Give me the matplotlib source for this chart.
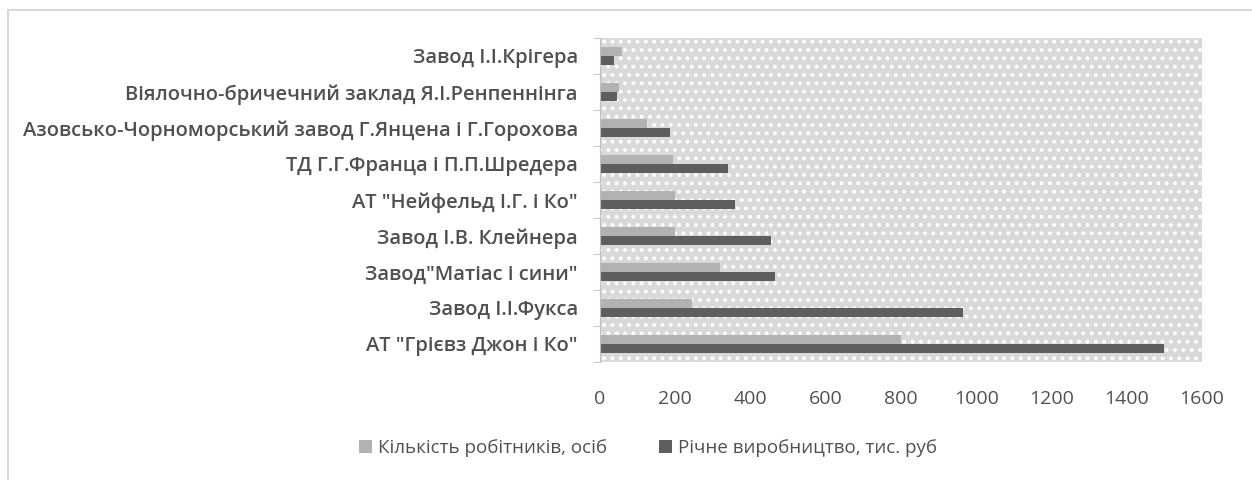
import matplotlib.pyplot as plt
import matplotlib.patches as mpatches
import numpy as np

plt.rcParams['font.family'] = ['Open Sans', 'DejaVu Sans']
plt.rcParams['hatch.color'] = 'white'
plt.rcParams['hatch.linewidth'] = 1.6

# categories listed top to bottom as in the picture
companies = [
    'Завод І.І.Крігера',
    'Віялочно-бричечний заклад Я.І.Ренпеннінга',
    'Азовсько-Чорноморський завод Г.Янцена і Г.Горохова',
    'ТД Г.Г.Франца і П.П.Шредера',
    'АТ "Нейфельд І.Г. і Ко"',
    'Завод І.В. Клейнера',
    'Завод"Матіас і сини"',
    'Завод І.І.Фукса',
    'АТ "Грієвз Джон і Ко"',
]
workers = [58, 50, 125, 195, 200, 200, 320, 245, 800]
production = [37, 45, 185, 340, 360, 455, 465, 965, 1500]

series_names = ['Кількість робітників, осіб', 'Річне виробництво, тис. руб']
light = '#b2b2b2'
dark = '#5e5e5e'
text_col = '#505050'

fig = plt.figure(figsize=(12.52, 4.8), dpi=100)

# outer chart frame
fig.patches.append(mpatches.Rectangle((8 / 1252, -0.01), 1.0, 1 - 10 / 480 + 0.01,
                                      transform=fig.transFigure, fill=False,
                                      edgecolor='#d9d9d9', linewidth=1.5))

ax = fig.add_axes([600 / 1252, 1 - 362 / 480, 602 / 1252, 324 / 480])
ax.set_facecolor('#d9d9d9')
ax.add_patch(mpatches.Rectangle((0, 0), 1, 1, transform=ax.transAxes,
                                facecolor='none', hatch='..', linewidth=0, zorder=0.5))

n = len(companies)
y = np.arange(n)[::-1]
h = 0.25
ax.barh(y + h / 2, workers, height=h, color=light, label=series_names[0], zorder=2)
ax.barh(y - h / 2, production, height=h, color=dark, label=series_names[1], zorder=2)

ax.set_xlim(0, 1600)
ax.set_ylim(-0.5, n - 0.5)
ax.set_xticks(range(0, 1601, 200))
ax.set_yticks(y)
ax.set_yticklabels(companies)
ax.set_yticks(np.arange(-0.5, n, 1), minor=True)

for s in ['top', 'right', 'bottom']:
    ax.spines[s].set_visible(False)
ax.spines['left'].set_color('#bfbfbf')
ax.tick_params(axis='y', which='major', length=0, pad=16, labelsize=14.5,
               labelcolor=text_col)
ax.tick_params(axis='y', which='minor', length=5, color='#bfbfbf')
ax.tick_params(axis='x', length=0, pad=20, labelsize=14, labelcolor=text_col)
for lbl in ax.get_yticklabels():
    lbl.set_fontweight('semibold')

leg = fig.legend(loc='center', bbox_to_anchor=(648 / 1252, 1 - 448 / 480), ncol=2,
                 frameon=False, fontsize=13.5, handlelength=0.7, handleheight=0.7,
                 handletextpad=0.3, columnspacing=2.8)
for t in leg.get_texts():
    t.set_color(text_col)

fig.savefig('out.png', dpi=100)
